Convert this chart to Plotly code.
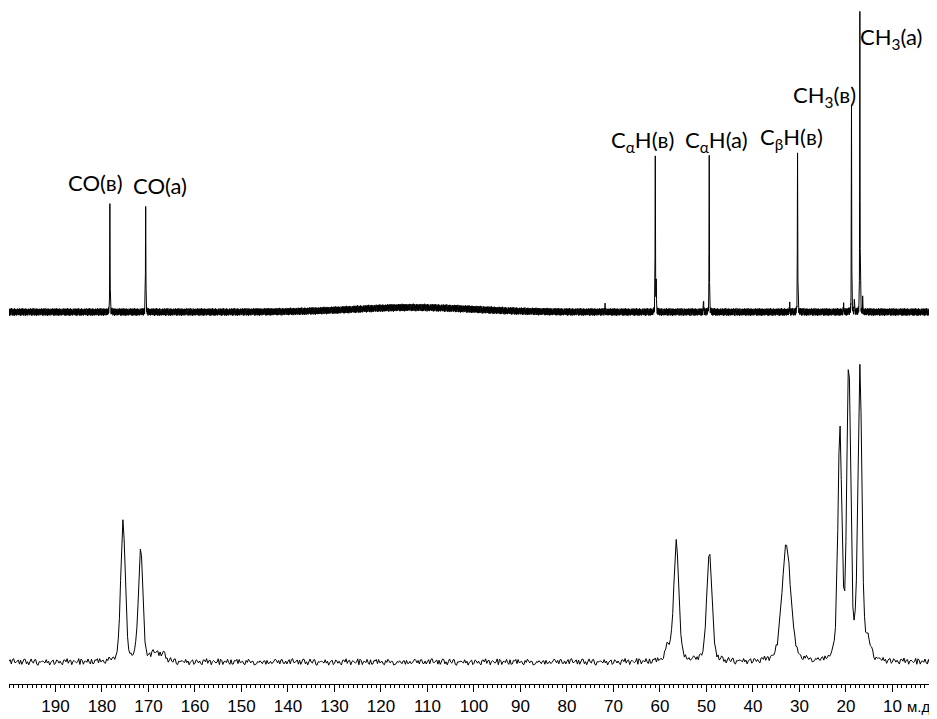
import numpy as np
import plotly.graph_objects as go

# ---------------- data ----------------
# Solution spectrum (top): sharp lines
top_ppm    = [178.3, 170.6, 61.0, 60.8, 49.4, 30.4, 18.8, 17.0, 71.8, 50.6, 32.1, 20.5, 18.2, 16.4]
top_height = [112,   105,   152,  30,   157,  159,  203,  300,  7,    10,   8,    8,    10,   12]
top_width  = [0.1,   0.1,   0.1,  0.1,  0.1,  0.1,  0.1,  0.1,  0.1,  0.1,  0.1,  0.1,  0.1,  0.1]
top_hump_ppm, top_hump_height, top_hump_width = 113.0, 4.5, 30.0

# Solid-state spectrum (bottom): broad lines
bot_ppm    = [175.5, 171.7, 168.5, 166.8, 58.4, 56.5, 49.4, 32.8, 21.3, 19.4, 17.0, 15.3]
bot_height = [143,   114,   8,     6,     12,   121,  109,  117,  226,  293,  291,  15]
bot_width  = [1.1,   1.1,   2.0,   1.5,   1.2,  1.3,  1.3,  2.2,  1.0,  0.95, 1.0,  1.5]

# baseline noise profile (read as an irregular pattern)
noise = [0.12,-0.45,0.78,-0.20,0.33,-0.91,0.05,0.64,-0.38,0.27,-0.70,0.48,-0.12,0.85,-0.55,0.18,
         -0.29,0.62,-0.83,0.40,-0.05,0.71,-0.47,0.22,-0.66,0.09,0.53,-0.34,0.95,-0.25,0.14,-0.58,
         0.37,-0.76,0.60,-0.15,0.29,-0.88,0.44,0.02,-0.41,0.67,-0.19,0.81,-0.62,0.25,-0.33,0.56,
         -0.72,0.11,0.46,-0.52,0.73,-0.08,0.31,-0.95,0.58,-0.27,0.16,-0.49,0.88,-0.36,0.07,-0.63,
         0.42,-0.17,0.69,-0.80,0.21,-0.04,0.50,-0.57,0.34,-0.23,0.77,-0.44,0.13,-0.69,0.61,-0.31,
         0.03,0.39,-0.86,0.26,-0.13,0.66,-0.51,0.19,-0.74,0.47,-0.09,0.83,-0.39,0.24,-0.60,0.10,
         0.55,-0.28,0.70,-0.46,0.35,-0.79,0.17,-0.02,0.63,-0.54,0.28,-0.67,0.41,-0.21,0.90,-0.32,
         0.06,-0.59,0.45,-0.14,0.74,-0.42,0.20,-0.84]

tick_vals   = [190, 180, 170, 160, 150, 140, 130, 120, 110, 100, 90, 80, 70, 60, 50, 40, 30, 20, 10]
tick_labels = [str(v) for v in tick_vals]
unit_label  = "м.д."

labels      = ["CO(в)", "CO(a)", "C<sub>α</sub>H(в)", "C<sub>α</sub>H(a)", "C<sub>β</sub>H(в)",
               "CH<sub>3</sub>(в)", "CH<sub>3</sub>(a)"]
label_ppm   = [181.3, 167.5, 63.7, 47.8, 31.7, 24.6, 10.2]
label_y     = [480, 477, 521, 521, 524, 566, 624]

TOP_OFFSET = 350
NOISE_TOP = 4.0
NOISE_BOT = 3.5


def pvoigt(x, centers, heights, widths, eta):
    y = np.zeros_like(x)
    for c, h, w in zip(centers, heights, widths):
        d = (x - c) / (w / 2.0)
        lor = 1.0 / (1.0 + d * d)
        gau = np.exp(-np.log(2) * d * d)
        y += h * (eta * lor + (1 - eta) * gau)
    return y


nz = np.array(noise)

x_top = np.arange(200.0, 1.7, -0.02)
y_top = pvoigt(x_top, top_ppm, top_height, top_width, 0.3)
y_top += pvoigt(x_top, [top_hump_ppm], [top_hump_height], [top_hump_width], 0.0)
y_top += NOISE_TOP * nz[np.arange(len(x_top)) % len(nz)]
y_top += TOP_OFFSET

x_bot = np.arange(200.0, 1.7, -0.25)
y_bot = pvoigt(x_bot, bot_ppm, bot_height, bot_width, 0.4)
y_bot += NOISE_BOT * nz[(np.arange(len(x_bot)) * 7) % len(nz)]

fig = go.Figure()
fig.add_trace(go.Scatter(x=x_top, y=y_top, mode="lines",
                         line=dict(color="black", width=1), hoverinfo="skip"))
fig.add_trace(go.Scatter(x=x_bot, y=y_bot, mode="lines",
                         line=dict(color="black", width=1), hoverinfo="skip"))

for t, xp, yp in zip(labels, label_ppm, label_y):
    fig.add_annotation(x=xp, y=yp, text=t, showarrow=False, xanchor="center", yanchor="middle",
                       font=dict(family="Lato, Noto Sans, sans-serif", size=22, color="black"))

fig.add_annotation(x=7.1, y=-0.034, xref="x", yref="paper", text=unit_label, showarrow=False,
                   xanchor="left", yanchor="middle", borderpad=0,
                   font=dict(family="Liberation Sans Narrow, Arial, sans-serif", size=15, color="black"))

fig.update_layout(
    width=937, height=719,
    margin=dict(l=1, r=14, t=0, b=43, autoexpand=False),
    paper_bgcolor="white", plot_bgcolor="white",
    showlegend=False,
    xaxis=dict(range=[200.0, 1.7], tickvals=tick_vals, ticktext=tick_labels, automargin=False,
               ticks="outside", ticklen=7, tickwidth=1, tickcolor="black",
               showline=True, linecolor="black", linewidth=1, showgrid=False, zeroline=False,
               tickfont=dict(family="Liberation Sans Narrow, Arial, sans-serif", size=17, color="black"),
               minor=dict(dtick=1, ticks="outside", ticklen=3, tickwidth=1, tickcolor="black",
                          showgrid=False)),
    yaxis=dict(range=[-22, 654], visible=False, showgrid=False, zeroline=False, automargin=False),
)

fig.write_html("out.html")
